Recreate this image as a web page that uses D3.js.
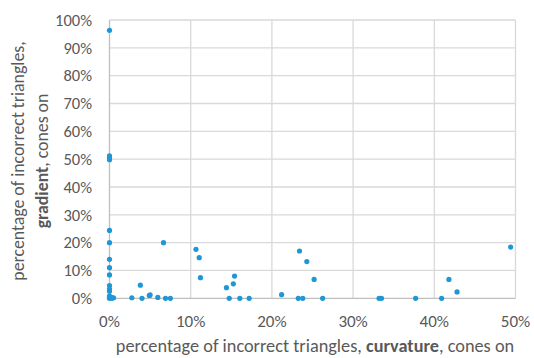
<!DOCTYPE html>
<html><head><meta charset="utf-8">
<script src="https://cdn.jsdelivr.net/npm/d3@7"></script>
<style>body{margin:0;background:#fff}svg{display:block}</style>
</head><body>
<svg id="c" width="534" height="358"></svg>
<script>
// data (percent)
const curvature = [0,0,0,0,0,0,0,0,0,0,0,0,0,0,0,0.25,0.5,0.3,2.75,3.8,4.0,4.9,5.0,5.95,6.65,6.9,7.5,10.65,11.05,11.2,14.4,14.75,15.25,15.4,16.05,17.2,21.2,23.25,23.4,23.8,24.3,25.2,26.25,33.2,33.5,37.7,40.9,41.8,42.8,49.4];
const gradient  = [96.3,51.2,50.5,49.8,24.4,20,14,11,8.4,4.6,3.3,2.5,0.8,0.3,0,0.3,0.2,0,0.2,4.7,0,1.0,1.2,0.3,20,0,0,17.6,14.6,7.4,3.8,0,5.2,8.0,0,0,1.3,0,17,0,13.2,6.8,0,0,0,0,0,6.8,2.3,18.4];
const xTicks = [0,10,20,30,40,50];
const yTicks = [0,10,20,30,40,50,60,70,80,90,100];

const svg = d3.select("#c");
const font = "Carlito, Lato, 'Open Sans', sans-serif";
const x = d3.scaleLinear().domain([0,50]).range([109.5,515.5]);
const y = d3.scaleLinear().domain([0,100]).range([298.3,20]);

// gridlines
svg.append("g").selectAll("line").data(yTicks.filter(d=>d>0)).join("line")
  .attr("x1",x(0)).attr("x2",x(50)).attr("y1",d=>y(d)).attr("y2",d=>y(d))
  .attr("stroke","#d9d9d9").attr("stroke-width",1.3);
svg.append("g").selectAll("line").data(xTicks.filter(d=>d>0)).join("line")
  .attr("y1",y(0)).attr("y2",y(100)).attr("x1",d=>x(d)).attr("x2",d=>x(d))
  .attr("stroke","#d9d9d9").attr("stroke-width",1.3);
// axis lines
svg.append("line").attr("x1",x(0)).attr("x2",x(50)).attr("y1",y(0)).attr("y2",y(0)).attr("stroke","#bfbfbf").attr("stroke-width",1.3);
svg.append("line").attr("x1",x(0)).attr("x2",x(0)).attr("y1",y(0)).attr("y2",y(100)).attr("stroke","#bfbfbf").attr("stroke-width",1.3);

// tick labels
svg.append("g").selectAll("text").data(yTicks).join("text")
  .attr("x",92).attr("y",d=>y(d)).attr("dy","0.35em").attr("text-anchor","end")
  .attr("font-family",font).attr("font-size",16.5).attr("fill","#595959")
  .text(d=>d+"%");
svg.append("g").selectAll("text").data(xTicks).join("text")
  .attr("x",d=>x(d)).attr("y",327).attr("text-anchor","middle")
  .attr("font-family",font).attr("font-size",17).attr("fill","#595959")
  .text(d=>d+"%");

// points
svg.append("g").selectAll("circle").data(curvature.map((c,i)=>[c,gradient[i]])).join("circle")
  .attr("cx",d=>x(d[0])).attr("cy",d=>y(d[1])).attr("r",2.6).attr("fill","#1f97d6");

// axis titles
const xt = svg.append("text").attr("x",315).attr("y",352).attr("text-anchor","middle")
  .attr("font-family",font).attr("font-size",18.3).attr("fill","#595959");
xt.append("tspan").text("percentage of incorrect triangles, ");
xt.append("tspan").attr("font-weight","bold").text("curvature");
xt.append("tspan").text(", cones on");

const yt = svg.append("g").attr("transform","translate(0,161) rotate(-90)");
yt.append("text").attr("x",0).attr("y",24).attr("text-anchor","middle")
  .attr("font-family",font).attr("font-size",17.8).attr("fill","#595959")
  .text("percentage of incorrect triangles,");
const yt2 = yt.append("text").attr("x",0).attr("y",48).attr("text-anchor","middle")
  .attr("font-family",font).attr("font-size",17.8).attr("fill","#595959");
yt2.append("tspan").attr("font-weight","bold").text("gradient");
yt2.append("tspan").text(", cones on");
</script>
</body></html>
